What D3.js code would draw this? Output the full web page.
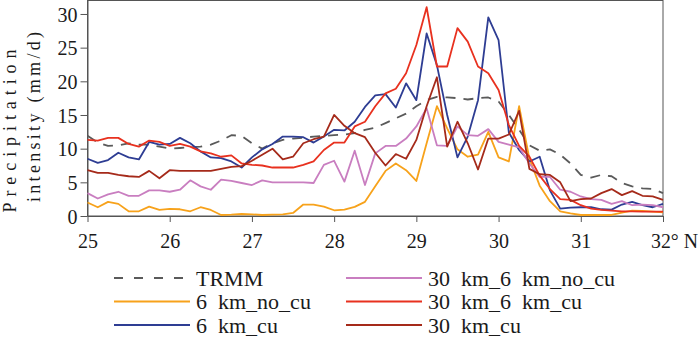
<!DOCTYPE html>
<html><head><meta charset="utf-8">
<script src="https://cdn.jsdelivr.net/npm/d3@7"></script>
<style>
body{margin:0;background:#fff}
svg{display:block}
svg text{font-family:"Times New Roman","Liberation Serif","DejaVu Serif",serif;fill:#1a1a1a}
</style>
</head><body>
<svg id="chart" width="700" height="341"></svg>
<script>
const latitudes = [25,25.125,25.25,25.375,25.5,25.625,25.75,25.875,
  26,26.125,26.25,26.375,26.5,26.625,26.75,26.875,
  27,27.125,27.25,27.375,27.5,27.625,27.75,27.875,
  28,28.125,28.25,28.375,28.5,28.625,28.75,28.875,
  29,29.125,29.25,29.375,29.5,29.625,29.75,29.875,
  30,30.125,30.25,30.375,30.5,30.625,30.75,30.875,
  31,31.125,31.25,31.375,31.5,31.625,31.75,31.875,32];
const xTickValues = [25,26,27,28,29,30,31,32];
const xTickLabels = ["25","26","27","28","29","30","31","32\u00B0 N"];
const yTickValues = [0,5,10,15,20,25,30];
const seriesNames = ["TRMM","6\u2002km_no_cu","6\u2002km_cu","30\u2002km_6\u2002km_no_cu","30\u2002km_6\u2002km_cu","30\u2002km_cu"];

const trmm = [11.9,10.9,10.4,10.5,10.8,10.6,10.6,10.3,
  10.0,10.1,10.2,10.3,10.6,11.2,12.0,11.9,
  10.8,10.0,10.8,11.3,11.5,11.6,11.8,11.9,
  12.0,12.1,12.3,12.8,13.1,13.8,14.5,15.2,
  16.3,17.2,17.7,17.6,17.5,17.3,17.5,17.6,
  17.0,15.0,12.8,10.5,9.7,9.9,9.1,7.8,
  6.1,5.7,6.1,5.9,4.9,4.4,4.1,4.0,3.4];
const km6NoCu = [2.0,1.3,2.1,1.8,0.7,0.7,1.4,0.9,
  1.05,1.0,0.7,1.3,0.9,0.15,0.2,0.3,
  0.25,0.15,0.2,0.25,0.45,1.7,1.7,1.4,
  0.85,0.95,1.35,2.1,4.4,6.7,7.8,6.8,
  5.2,10.8,16.3,13.0,9.9,8.8,9.1,12.5,
  8.7,8.1,16.3,8.5,4.5,2.2,0.7,0.4,
  0.15,0.15,0.15,0.15,0.5,0.8,0.75,0.65,0.55];
const km6Cu = [8.5,7.9,8.3,9.4,8.7,8.4,11.0,10.6,
  10.7,11.6,10.8,9.6,8.7,8.6,8.1,7.2,
  8.7,9.9,10.7,11.8,11.8,11.7,10.9,11.8,
  12.8,12.7,14.0,16.2,17.9,18.1,16.1,19.7,
  17.2,27.1,22.4,15.0,8.7,11.8,17.2,29.5,
  26.1,12.4,9.8,8.1,8.8,3.8,1.1,1.25,
  1.3,1.3,1.0,0.95,1.7,2.1,1.6,1.3,1.8];
const km30km6NoCu = [3.4,2.6,3.2,3.6,3.0,3.0,3.8,3.8,
  3.6,3.9,5.3,4.4,3.9,5.4,5.2,4.9,
  4.6,5.3,5.0,5.0,5.0,5.0,4.9,7.6,
  8.2,5.1,9.7,4.6,9.3,10.4,10.4,11.5,
  13.3,16.0,10.5,10.4,13.3,12.0,11.9,12.9,
  11.0,10.6,10.2,7.8,5.8,5.8,3.9,3.6,
  2.9,2.5,2.4,1.8,2.2,1.6,1.7,1.6,1.3];
const km30km6Cu = [11.3,11.2,11.6,11.6,10.7,10.3,11.2,11.0,
  10.4,10.7,10.3,9.6,9.3,8.8,9.0,7.8,
  7.6,7.5,7.2,7.2,7.2,7.6,8.1,9.8,
  10.9,10.9,13.3,14.0,16.3,18.2,18.9,21.2,
  25.4,31.0,22.2,22.2,27.9,25.9,22.2,21.2,
  18.7,13.5,10.4,8.8,6.0,4.0,2.5,2.4,
  1.6,1.1,0.9,0.8,0.7,0.7,0.65,0.65,0.65];
const km30Cu = [6.8,6.4,6.4,6.1,5.9,5.8,6.7,5.6,
  6.8,6.7,6.7,6.7,6.7,7.0,7.3,7.4,
  8.2,9.1,10.0,8.4,8.8,10.8,11.4,11.8,
  15.0,13.4,12.3,11.7,9.4,7.5,9.2,8.5,
  11.3,16.3,20.6,10.3,14.0,10.8,6.9,11.5,
  11.5,12.1,15.6,7.0,6.2,6.1,5.0,2.2,
  2.5,2.6,3.4,4.0,3.1,3.7,3.0,2.9,2.4];

const seriesValues = [trmm, km6NoCu, km6Cu, km30km6NoCu, km30km6Cu, km30Cu];
const colors = ["#5a5a5a","#F7A21B","#2E3D93","#C97EC0","#E8311F","#A52A1A"];
const dashes = ["10,8",null,null,null,null,null];

const svg = d3.select("#chart");
const x = d3.scaleLinear().domain([25,32]).range([87.5,663]);
const y = d3.scaleLinear().domain([0,32]).range([216,0.5]);
const axisColor = "#555";

// frame
svg.append("rect").attr("x",87.5).attr("y",0.5).attr("width",663-87.5).attr("height",215.5)
  .attr("fill","none").attr("stroke",axisColor).attr("stroke-width",1);

// y axis
const gy = svg.append("g").attr("transform","translate(87.5,0)")
  .call(d3.axisLeft(y).tickValues(yTickValues).tickSize(7).tickSizeOuter(0).tickPadding(3));
gy.attr("font-family",null).attr("font-size",null);
gy.select(".domain").attr("stroke",axisColor);
gy.selectAll(".tick line").attr("stroke",axisColor);
gy.selectAll(".tick text").attr("font-size",20).attr("fill","#1a1a1a").attr("dy","0.36em");

// x axis
const gx = svg.append("g").attr("transform","translate(0,216)")
  .call(d3.axisBottom(x).tickValues(xTickValues).tickSize(6).tickSizeOuter(0).tickPadding(12)
    .tickFormat((d,i)=>xTickLabels[i]));
gx.attr("font-family",null).attr("font-size",null);
gx.select(".domain").attr("stroke",axisColor);
gx.selectAll(".tick line").attr("stroke",axisColor);
gx.selectAll(".tick text").attr("font-size",20).attr("fill","#1a1a1a")
  .each(function(d,i){ if(i===xTickLabels.length-1){
    d3.select(this).attr("text-anchor","start").attr("x",-12.5)
      .attr("textLength",47).attr("lengthAdjust","spacingAndGlyphs"); } });

// y title
const yt = svg.append("g");
yt.append("text").attr("transform","translate(15.5,131) rotate(-90)").attr("text-anchor","middle")
  .attr("font-size",18).attr("textLength",163).attr("lengthAdjust","spacing").text("Precipitation");
yt.append("text").attr("transform","translate(40,117) rotate(-90)").attr("text-anchor","middle")
  .attr("font-size",18).attr("textLength",170).attr("lengthAdjust","spacing").text("intensity (mm/d)");

// lines
const line = d3.line().x((d,i)=>x(latitudes[i])).y(d=>y(d));
const plot = svg.append("g");
seriesValues.forEach((vals,k)=>{
  plot.append("path").datum(vals).attr("d",line).attr("fill","none")
    .attr("stroke",colors[k]).attr("stroke-width",1.8).attr("stroke-linejoin","round")
    .attr("stroke-dasharray",dashes[k]);
});

// legend
const legX = [114,346], legRowY = [278,301.5,325];
const lg = svg.append("g");
seriesNames.forEach((name,k)=>{
  const col = Math.floor(k/3), row = k%3;
  const lx = legX[col], ly = legRowY[row];
  lg.append("line").attr("x1",lx).attr("x2",lx+76).attr("y1",ly).attr("y2",ly)
    .attr("stroke",colors[k]).attr("stroke-width",1.8).attr("stroke-dasharray",k===0?"9,11":null);
  lg.append("text").attr("x",lx+82).attr("y",ly).attr("dy","0.36em").attr("font-size",22).text(name);
});
</script>
</body></html>
